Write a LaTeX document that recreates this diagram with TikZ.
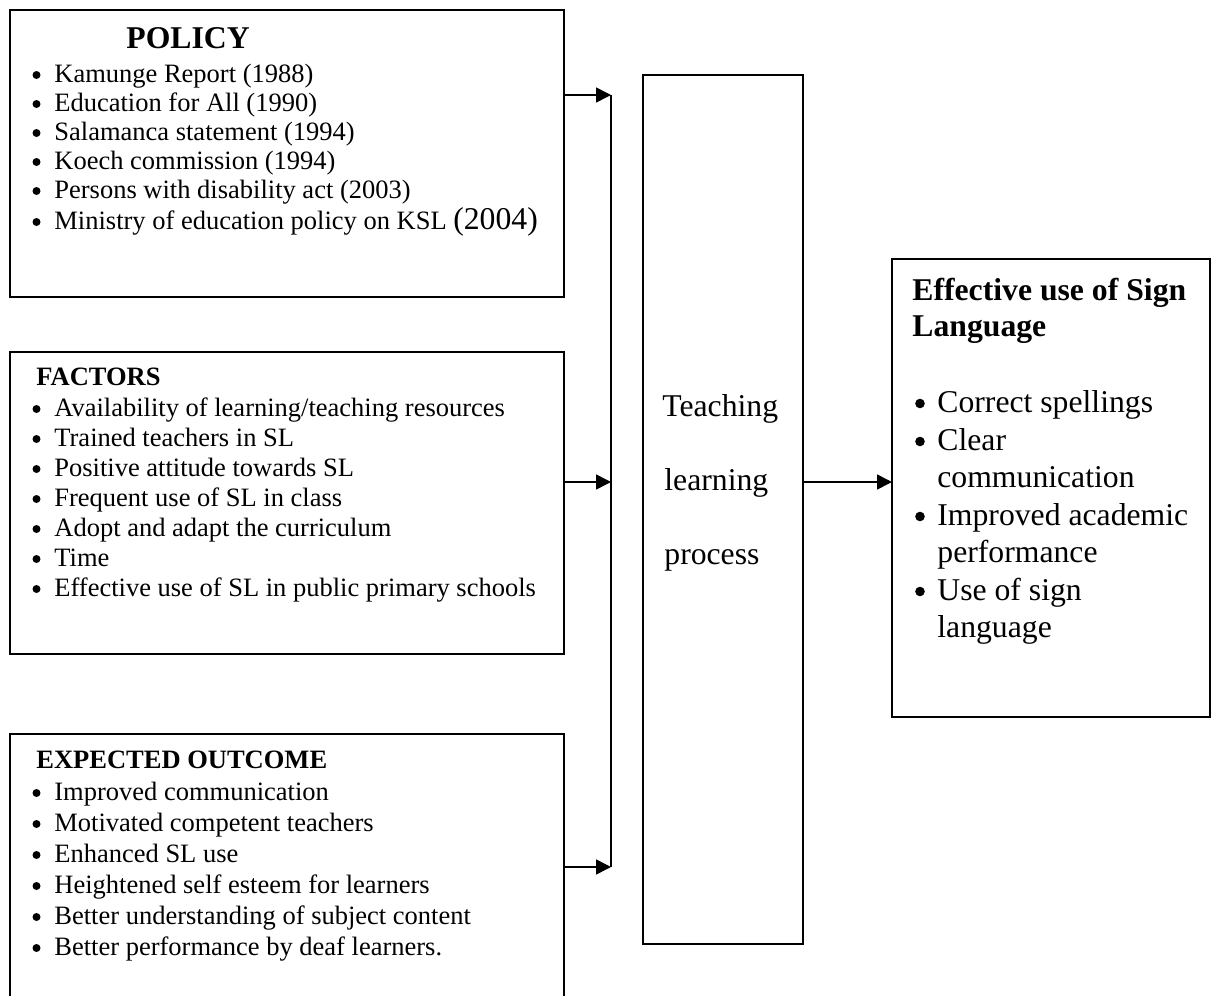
\documentclass[tikz,border=0pt]{standalone}
\usepackage{fontspec}
\setmainfont{Liberation Serif}
\usetikzlibrary{arrows.meta}
\tikzset{
  box/.style={draw, line width=0.8pt, inner sep=0pt, outer sep=0pt},
  sm/.style={anchor=base west, inner sep=0pt, font=\fontsize{13.25}{16}\selectfont},
  lg/.style={anchor=base west, inner sep=0pt, font=\fontsize{15.85}{19}\selectfont},
  arr/.style={line width=0.8pt, -{Triangle[length=7.5pt,width=7.5pt]}},
  ln/.style={line width=0.8pt}
}
\begin{document}
\begin{tikzpicture}[x=0.5pt,y=-0.5pt]
\useasboundingbox (0,0) rectangle (1212,996);
\clip (0,0) rectangle (1212,996);
% boxes
\node[box, minimum width=277pt, minimum height=143.5pt] (policy) at (287,153.5) {};
\node[box, minimum width=277pt, minimum height=151pt] (factors) at (287,503) {};
\node[box, minimum width=277pt, minimum height=138pt] (outcome) at (287,872) {};
\node[box, minimum width=80pt, minimum height=434.5pt] (process) at (723,509.5) {};
\node[box, minimum width=159pt, minimum height=229pt] (effect) at (1051,488) {};
% bullets (small)
\foreach \b in {82,111,140,169,198,229,416,446,476,506,536,566,596,800,831,862,893,924,955}
  \fill (36.5,\b-7) circle (2pt);
% bullets (large)
\foreach \b in {412,450,525,600}
  \fill (920,\b-8.5) circle (2.4pt);
% policy text
\node[lg, font=\fontsize{15.85}{19}\selectfont\bfseries] (ph) at (126,48) {POLICY};
\node[sm] (p1) at (54,82) {Kamunge Report (1988)};
\node[sm] (p2) at (54,111) {Education for All (1990)};
\node[sm] (p3) at (54,140) {Salamanca statement (1994)};
\node[sm] (p4) at (54,169) {Koech commission (1994)};
\node[sm] (p5) at (54,198) {Persons with disability act (2003)};
\node[sm] (p6) at (54,229) {Ministry of education policy on KSL {\fontsize{15.85}{19}\selectfont(2004)}};
% factors text
\node[sm, font=\fontsize{13.25}{16}\selectfont\bfseries] (fh) at (36,385) {FACTORS};
\node[sm] (f1) at (54,416) {Availability of learning/teaching resources};
\node[sm] (f2) at (54,446) {Trained teachers in SL};
\node[sm] (f3) at (54,476) {Positive attitude towards SL};
\node[sm] (f4) at (54,506) {Frequent use of SL in class};
\node[sm] (f5) at (54,536) {Adopt and adapt the curriculum};
\node[sm] (f6) at (54,566) {Time};
\node[sm] (f7) at (54,596) {Effective use of SL in public primary schools};
% outcome text
\node[sm, font=\fontsize{13.25}{16}\selectfont\bfseries] (oh) at (36,768) {EXPECTED OUTCOME};
\node[sm] (o1) at (54,800) {Improved communication};
\node[sm] (o2) at (54,831) {Motivated competent teachers};
\node[sm] (o3) at (54,862) {Enhanced SL use};
\node[sm] (o4) at (54,893) {Heightened self esteem for learners};
\node[sm] (o5) at (54,924) {Better understanding of subject content};
\node[sm] (o6) at (54,955) {Better performance by deaf learners.};
% process text
\node[lg] (c1) at (662,416) {Teaching};
\node[lg] (c2) at (664,490) {learning};
\node[lg] (c3) at (664,564) {process};
% effect text
\node[lg, font=\fontsize{15.85}{19}\selectfont\bfseries] (eh1) at (912,300) {Effective use of Sign};
\node[lg, font=\fontsize{15.85}{19}\selectfont\bfseries] (eh2) at (912,336) {Language};
\node[lg] (e1) at (937,412) {Correct spellings};
\node[lg] (e2) at (937,450) {Clear};
\node[lg] (e3) at (937,487) {communication};
\node[lg] (e4) at (937,525) {Improved academic};
\node[lg] (e5) at (937,562) {performance};
\node[lg] (e6) at (937,600) {Use of sign};
\node[lg] (e7) at (937,637) {language};
% connectors
\coordinate (j1) at (611,95);
\coordinate (j2) at (611,482);
\coordinate (j3) at (611,867);
\draw[arr] (policy.east |- j1) -- (j1);
\draw[arr] (factors.east |- j2) -- (j2);
\draw[arr] (outcome.east |- j3) -- (j3);
\draw[ln] (j1) -- (j3);
\draw[arr] (process.east |- j2) -- (effect.west |- j2);
\end{tikzpicture}
\end{document}
